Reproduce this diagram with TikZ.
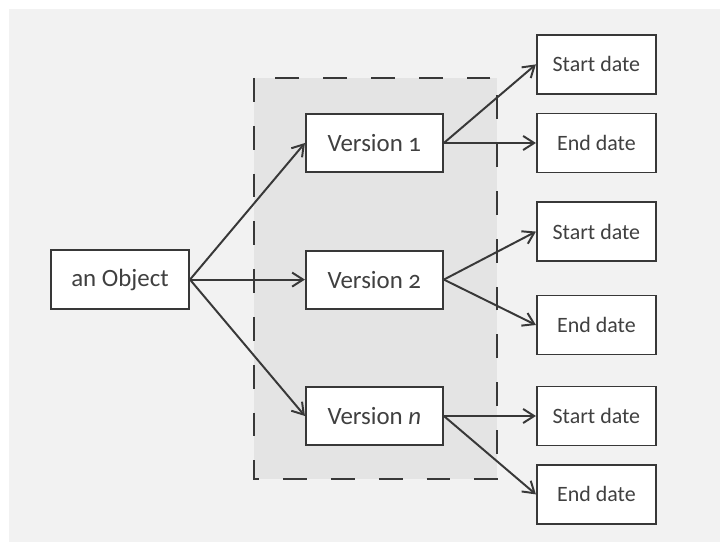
\documentclass[tikz,border=0pt]{standalone}
\usepackage{fontspec}
\setmainfont{Carlito}[Numbers=OldStyle]
\usetikzlibrary{arrows.meta}
\definecolor{bggray}{HTML}{F2F2F2}
\definecolor{groupgray}{HTML}{E4E4E4}
\definecolor{linegray}{HTML}{383838}
\definecolor{txtgray}{HTML}{404040}

\begin{document}
\begin{tikzpicture}[
		box/.style={draw=linegray, line width=1.4pt, fill=white, text=txtgray,
			minimum width=3.425cm, minimum height=1.45cm, inner sep=0pt,
			font=\fontsize{17.7}{20}\selectfont},
		datebox/.style={box, minimum width=2.975cm, minimum height=1.475cm,
			font=\fontsize{15.6}{18}\selectfont},
		link/.style={draw=linegray, line width=1.4pt,
			-{Straight Barb[length=7.8pt, width=10pt]}}
	]
		% Background
		\useasboundingbox (0,0) rectangle (18,-13.55);
		\fill[bggray] (0.225,-0.225) rectangle (18,-13.55);

		% Version group
		\fill[groupgray] (6.35,-1.95) rectangle (12.425,-11.975);
		\draw[linegray, line width=1.8pt, dash pattern=on 17pt off 17pt]
			(6.35,-1.95) rectangle (12.425,-11.975);

		% Object
		\node[box, minimum width=3.45cm, minimum height=1.475cm] (obj) at (3.0,-6.99) {an Object};

		% Versions
		\node[box] (ver1) at (9.36,-3.575) {Version 1};
		\node[box] (ver2) at (9.36,-6.99) {Version 2};
		\node[box] (vern) at (9.36,-10.4) {Version \textit{n}};

		% Dates
		\node[datebox] (start1) at (14.91,-1.61) {Start date};
		\node[datebox] (end1) at (14.91,-3.575) {End date};
		\node[datebox] (start2) at (14.91,-5.79) {Start date};
		\node[datebox] (end2) at (14.91,-8.125) {End date};
		\node[datebox] (startn) at (14.91,-10.4) {Start date};
		\node[datebox] (endn) at (14.91,-12.36) {End date};

		% Links
		\foreach \v in {ver1, ver2, vern}
			\draw[link] (obj.east) -- (\v.west);
		\foreach \v/\s/\e in {ver1/start1/end1, ver2/start2/end2, vern/startn/endn} {
			\draw[link] (\v.east) -- (\s.west);
			\draw[link] (\v.east) -- (\e.west);
		}
	\end{tikzpicture}
\end{document}
